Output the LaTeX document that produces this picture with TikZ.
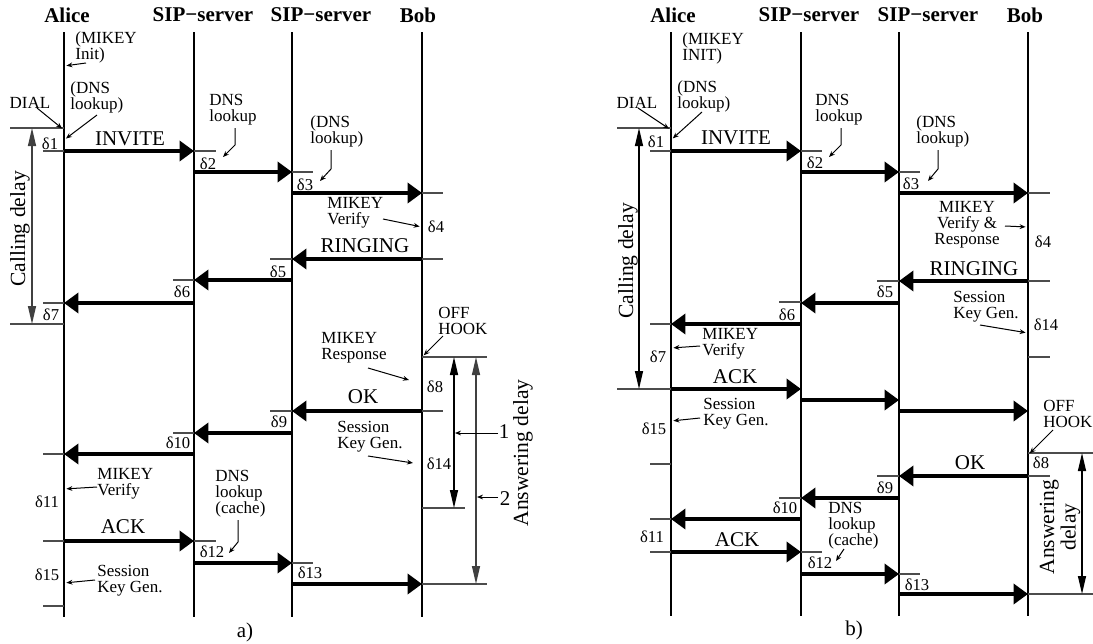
\documentclass[tikz,border=0pt]{standalone}
\usepackage{fontspec}
\setmainfont{Liberation Serif}
\usetikzlibrary{arrows.meta}

\begin{document}
\begin{tikzpicture}[
  x=0.5pt, y=-0.5pt,
  every node/.style={inner sep=0pt},
  actor/.style={font=\fontsize{10.5}{12}\selectfont\bfseries},
  lane/.style={line width=1.1pt},
  msg/.style={line width=2.1pt, -{Triangle[length=7.2pt, width=10pt]}},
  msglabel/.style={font=\fontsize{10.5}{12}\selectfont},
  note/.style={font=\fontsize{8.5}{8}\selectfont, align=left, anchor=west},
  dlabel/.style={font=\fontsize{8.3}{9}\selectfont},
  tk/.style={line width=0.55pt, black!70},
  ptr/.style={line width=0.5pt, -{Stealth[length=3pt, width=2.4pt]}},
  ptrl/.style={ptr, shorten >=1.2pt},
  delayspan/.style={line width=0.65pt, black!75, {Triangle[length=9pt, width=4pt]}-{Triangle[length=9pt, width=4pt]}},
  spanlabel/.style={font=\fontsize{10.8}{7.5}\selectfont, rotate=90, align=center},
  panel/.style={font=\fontsize{10.5}{12}\selectfont}
]
  \useasboundingbox (0,0) rectangle (1093,643);

  % a) participants and lifelines
  \node[actor] (hAlA) at (67,15) {Alice};
  \node[actor] (hS1A) at (203,15) {SIP−server};
  \node[actor] (hS2A) at (321,15) {SIP−server};
  \node[actor] (hBobA) at (418,15) {Bob};
  \coordinate (alA) at (64,32);
  \coordinate (s1A) at (194,32);
  \coordinate (s2A) at (292,32);
  \coordinate (bobA) at (422,32);
  \foreach \l in {alA, s1A, s2A, bobA}
    \draw[lane] (\l) -- (\l |- 0,617);

  % a) messages
  \foreach \f/\t/\y in {alA/s1A/151, s1A/s2A/172, s2A/bobA/193, bobA/s2A/259, s2A/s1A/280, s1A/alA/303,
                        bobA/s2A/411, s2A/s1A/433, s1A/alA/454, alA/s1A/541, s1A/s2A/563, s2A/bobA/584}
    \draw[msg] (\f |- 0,\y) -- (\t |- 0,\y);
  \foreach \l/\y/\d in {alA/128/-54, alA/151/-21, s1A/151/22, s2A/172/21, bobA/193/21, bobA/259/21,
                        s2A/259/-22, s1A/280/-21, alA/303/-21, alA/324/-54, bobA/357/65, bobA/411/21,
                        s2A/411/-22, s1A/433/-21, alA/454/-21, bobA/508/43, alA/541/-21, s1A/541/22,
                        s2A/563/21, bobA/584/65, alA/606/-21}
    \draw[tk] (\l |- 0,\y) -- ++(\d,0);
  \foreach \i/\x/\y in {1/50/144, 2/208/164, 3/305/185, 4/436/227, 5/278/272, 6/182/292, 7/51/315, 8/435/387,
                        9/279/422, 10/178/443, 11/47/502, 12/212/552, 13/310/573, 14/439/464, 15/47/575}
    \node[dlabel] (dA\i) at (\x,\y) {δ\i};

  \node[msglabel] (invA) at (130,139) {INVITE};
  \node[msglabel] (ringA) at (365,246) {RINGING};
  \node[msglabel] (okA) at (363,397) {OK};
  \node[msglabel] (ackA) at (123,527) {ACK};

  % a) notes
  \node[note] (mkInitA) at (75,47) {(MIKEY\\Init)};
  \draw[ptrl] (mkInitA.west) ++(11,16) -- (alA |- 0,66);
  \node[note] (dnsAlA) at (70,97) {(DNS\\lookup)};
  \draw[ptrl] (dnsAlA.west) ++(27,18) -- (alA |- 0,140);
  \node[note, anchor=center] (dialA) at (30,103) {DIAL};
  \draw[ptrl] (dialA) ++(7,5) -- (alA |- 0,130);
  \node[note] (dnsS1A) at (209,110) {DNS\\lookup};
  \draw[ptr] (dnsS1A.west) ++(26,18) -- ++(0,17) -- ++(-12,12);
  \node[note] (dnsS2A) at (310,131) {(DNS\\lookup)};
  \draw[ptr] (dnsS2A.west) ++(21,19) -- ++(0,19) -- ++(-11,12);
  \node[note] (mkVerA) at (327,213) {MIKEY\\Verify};
  \draw[ptrl] (mkVerA.west) ++(56,6) -- (bobA |- 0,227);
  \node[note] (offHookA) at (438,321) {OFF\\HOOK};
  \draw[ptrl] (offHookA.west) ++(5,15) -- (bobA |- 0,357);
  \node[note] (mkRespA) at (321,348) {MIKEY\\Response};
  \draw[ptr] (mkRespA.west) ++(47,20) -- ++(41,12);
  \node[note] (sesBobA) at (337,437) {Session\\Key Gen.};
  \draw[ptr] (sesBobA.west) ++(31,19) -- ++(45,7);
  \node[note] (mkVerAlA) at (97,484) {MIKEY\\Verify};
  \draw[ptrl] (mkVerAlA.west) ++(0,3) -- (alA |- 0,489);
  \node[note] (dnsCacheA) at (215,494) {DNS\\lookup\\(cache)};
  \draw[ptr] (dnsCacheA.west) ++(23,26) -- ++(0,22) -- ++(-9,11);
  \node[note] (sesAlA) at (97,581) {Session\\Key Gen.};
  \draw[ptrl] (sesAlA.west) ++(-2,-1) -- (alA |- 0,583);

  % a) delays
  \coordinate (callAtop) at (32,128);
  \coordinate (callAbot) at (32,324);
  \draw[delayspan] (callAtop) -- (callAbot);
  \node[spanlabel] (callTxtA) at (20,229) {Calling delay};
  \coordinate (ansA1top) at (454,357);
  \coordinate (ansA1bot) at (454,508);
  \coordinate (ansA2top) at (476,357);
  \coordinate (ansA2bot) at (476,584);
  \draw[delayspan, black] (ansA1top) -- (ansA1bot);
  \draw[delayspan] (ansA2top) -- (ansA2bot);
  \node[msglabel] (oneA) at (504,432) {1};
  \draw[ptr] (oneA) ++(-6,1) -- ++(-43,0);
  \node[msglabel] (twoA) at (505,499) {2};
  \draw[ptr] (twoA) ++(-7,-2) -- ++(-21,0);
  \node[spanlabel] (ansTxtA) at (523,453) {Answering delay};
  \node[panel] (labA) at (245,632) {a)};

  % b) participants and lifelines
  \node[actor] (hAlB) at (673,15) {Alice};
  \node[actor] (hS1B) at (809,15) {SIP−server};
  \node[actor] (hS2B) at (928,15) {SIP−server};
  \node[actor] (hBobB) at (1025,15) {Bob};
  \coordinate (alB) at (671,32);
  \coordinate (s1B) at (801,32);
  \coordinate (s2B) at (899,32);
  \coordinate (bobB) at (1028,32);
  \foreach \l in {alB, s1B, s2B, bobB}
    \draw[lane] (\l) -- (\l |- 0,616);

  % b) messages
  \foreach \f/\t/\y in {alB/s1B/151, s1B/s2B/172, s2B/bobB/193, bobB/s2B/281, s2B/s1B/303, s1B/alB/324,
                        alB/s1B/389, s1B/s2B/400, s2B/bobB/411, bobB/s2B/476, s2B/s1B/498, s1B/alB/519,
                        alB/s1B/552, s1B/s2B/574, s2B/bobB/594}
    \draw[msg] (\f |- 0,\y) -- (\t |- 0,\y);
  \foreach \l/\y/\d in {alB/128/-54, alB/151/-21, s1B/151/21, s2B/172/21, bobB/193/22, bobB/281/22,
                        s2B/281/-22, s1B/302/-22, alB/324/-21, bobB/357/22, alB/389/-54, alB/464/-21,
                        bobB/453/65, bobB/476/22, s2B/476/-22, s1B/498/-22, alB/519/-21, alB/552/-21,
                        s1B/552/21, s2B/574/21, bobB/594/65}
    \draw[tk] (\l |- 0,\y) -- ++(\d,0);
  \foreach \i/\x/\y in {1/656/142, 2/815/163, 3/911/184, 4/1043/242, 5/885/292, 6/787/315, 7/658/357, 8/1041/463,
                        9/885/488, 10/785/508, 11/652/537, 12/820/563, 13/917/585, 14/1046/325, 15/654/429}
    \node[dlabel] (dB\i) at (\x,\y) {δ\i};

  \node[msglabel] (invB) at (736,138) {INVITE};
  \node[msglabel] (ringB) at (974,269) {RINGING};
  \node[msglabel] (ackB1) at (735,377) {ACK};
  \node[msglabel] (okB) at (970,463) {OK};
  \node[msglabel] (ackB2) at (737,540) {ACK};

  % b) notes
  \node[note] (mkInitB) at (682,48) {(MIKEY\\INIT)};
  \node[note] (dnsAlB) at (677,96) {(DNS\\lookup)};
  \draw[ptrl] (dnsAlB.west) ++(25,16) -- (alB |- 0,140);
  \node[note, anchor=center] (dialB) at (637,103) {DIAL};
  \draw[ptrl] (dialB) ++(1,5) -- (alB |- 0,130);
  \node[note] (dnsS1B) at (815,110) {DNS\\lookup};
  \draw[ptr] (dnsS1B.west) ++(26,18) -- ++(0,17) -- ++(-12,12);
  \node[note] (dnsS2B) at (916,131) {(DNS\\lookup)};
  \draw[ptr] (dnsS2B.west) ++(22,19) -- ++(0,19) -- ++(-10,12);
  \node[note, anchor=center, align=center] (mkVRB) at (967,225) {MIKEY\\Verify \&\\Response};
  \draw[ptrl] (mkVRB) ++(38,1) -- (bobB |- 0,227);
  \node[note] (sesBobB) at (953,307) {Session\\Key Gen.};
  \draw[ptrl] (sesBobB.west) ++(27,18) -- (bobB |- 0,333);
  \node[note] (mkVerAlB) at (702,344) {MIKEY\\Verify};
  \draw[ptrl] (mkVerAlB.west) ++(-2,2) -- (alB |- 0,348);
  \node[note] (sesAlB) at (703,414) {Session\\Key Gen.};
  \draw[ptrl] (sesAlB.west) ++(-3,4) -- (alB |- 0,421);
  \node[note] (offHookB) at (1043,414) {OFF\\HOOK};
  \draw[ptrl] (offHookB.west) ++(10,16) -- (bobB |- 0,455);
  \node[note] (dnsCacheB) at (828,526) {DNS\\lookup\\(cache)};
  \draw[ptr] (dnsCacheB.west) ++(16,23) -- ++(-8,12);

  % b) delays
  \coordinate (callBtop) at (639,128);
  \coordinate (callBbot) at (639,389);
  \draw[delayspan, black] (callBtop) -- (callBbot);
  \node[spanlabel] (callTxtB) at (628,261) {Calling delay};
  \coordinate (ansBtop) at (1082,453);
  \coordinate (ansBbot) at (1082,594);
  \draw[delayspan, black] (ansBtop) -- (ansBbot);
  \node[spanlabel] (ansTxtB) at (1060,527) {Answering\\delay};
  \node[panel] (labB) at (854,630) {b)};
\end{tikzpicture}
\end{document}
